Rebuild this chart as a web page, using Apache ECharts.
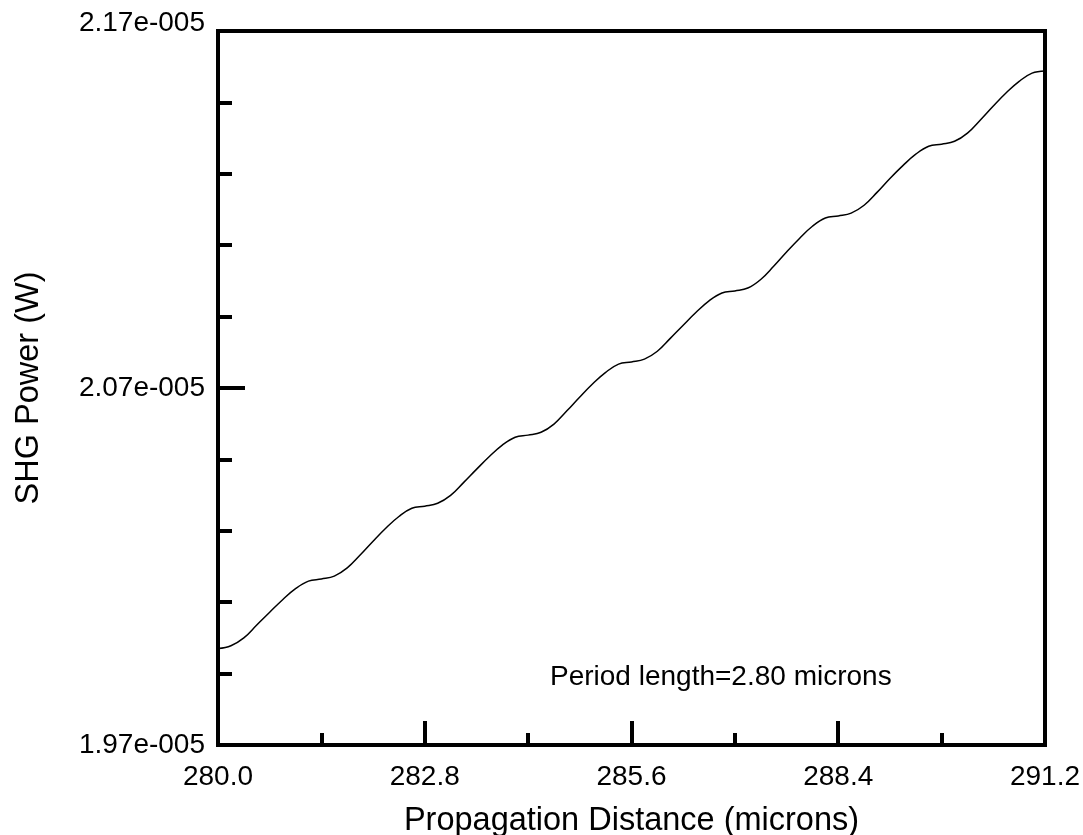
<!DOCTYPE html>
<html>
<head>
<meta charset="utf-8">
<script src="https://cdn.jsdelivr.net/npm/echarts@6/dist/echarts.min.js"></script>
<style>
html,body{margin:0;padding:0;background:#fff;}
#chart{width:1083px;height:835px;}
</style>
</head>
<body>
<div id="chart"></div>
<script>
// Propagation distance (microns)
const distance = [
  280.000, 280.175, 280.350, 280.525, 280.700, 280.875, 281.050, 281.225,
  281.400, 281.575, 281.750, 281.925, 282.100, 282.275, 282.450, 282.625,
  282.800, 282.975, 283.150, 283.325, 283.500, 283.675, 283.850, 284.025,
  284.200, 284.375, 284.550, 284.725, 284.900, 285.075, 285.250, 285.425,
  285.600, 285.775, 285.950, 286.125, 286.300, 286.475, 286.650, 286.825,
  287.000, 287.175, 287.350, 287.525, 287.700, 287.875, 288.050, 288.225,
  288.400, 288.575, 288.750, 288.925, 289.100, 289.275, 289.450, 289.625,
  289.800, 289.975, 290.150, 290.325, 290.500, 290.675, 290.850, 291.025,
  291.200
];
// SHG power, in units of 1e-5 W
const shgPower = [
  1.9970, 1.9978, 2.0000, 2.0036, 2.0072, 2.0107, 2.0138, 2.0159,
  2.0165, 2.0173, 2.0196, 2.0232, 2.0271, 2.0308, 2.0340, 2.0363,
  2.0369, 2.0377, 2.0399, 2.0435, 2.0472, 2.0508, 2.0540, 2.0562,
  2.0568, 2.0576, 2.0599, 2.0636, 2.0675, 2.0712, 2.0744, 2.0767,
  2.0773, 2.0781, 2.0803, 2.0839, 2.0876, 2.0912, 2.0944, 2.0966,
  2.0972, 2.0980, 2.1004, 2.1041, 2.1081, 2.1119, 2.1153, 2.1176,
  2.1182, 2.1190, 2.1212, 2.1248, 2.1287, 2.1323, 2.1355, 2.1377,
  2.1383, 2.1391, 2.1414, 2.1451, 2.1490, 2.1527, 2.1559, 2.1582,
  2.1588
];
const xLabelValues = [280.0, 282.8, 285.6, 288.4, 291.2];
const xMajorTicks = [282.8, 285.6, 288.4];
const xMinorTicks = [281.4, 284.2, 287.0, 289.8];
const yLabelValues = [1.97, 2.07, 2.17];
const yMajorTicks = [2.07];
const yMinorTicks = [1.99, 2.01, 2.03, 2.05, 2.09, 2.11, 2.13, 2.15];
const xTitle = 'Propagation Distance (microns)';
const yTitle = 'SHG Power (W)';
const note = 'Period length=2.80 microns';

const FONT = '"Liberation Sans", Arial, sans-serif';
const chart = echarts.init(document.getElementById('chart'));
const points = distance.map((d, i) => [d, shgPower[i]]);

const baseX = {
  type: 'value', min: 280, max: 291.2, gridIndex: 0, position: 'bottom',
  splitLine: {show: false}
};
const baseY = {
  type: 'value', min: 1.97, max: 2.17, gridIndex: 0, position: 'left',
  splitLine: {show: false}
};

chart.setOption({
  backgroundColor: '#fff',
  animation: false,
  grid: {left: 218, right: 38, top: 31, bottom: 90, show: true,
         containLabel: false, outerBoundsMode: 'none',
         borderColor: '#000', borderWidth: 4, backgroundColor: 'transparent'},
  xAxis: [
    Object.assign({}, baseX, {
      axisLine: {show: true, lineStyle: {color: '#000', width: 4}},
      axisTick: {show: true, inside: true, length: 24, customValues: xMajorTicks,
                 lineStyle: {color: '#000', width: 4}},
      axisLabel: {show: true, customValues: xLabelValues, margin: 18,
                  formatter: v => v.toFixed(1),
                  color: '#000', fontSize: 28, fontFamily: FONT},
      name: xTitle, nameLocation: 'middle', nameGap: 60,
      nameTextStyle: {color: '#000', fontSize: 32.5, fontFamily: FONT}
    }),
    Object.assign({}, baseX, {
      axisLine: {show: false},
      axisTick: {show: true, inside: true, length: 12, customValues: xMinorTicks,
                 lineStyle: {color: '#000', width: 4}},
      axisLabel: {show: false}
    })
  ],
  yAxis: [
    Object.assign({}, baseY, {
      axisLine: {show: true, lineStyle: {color: '#000', width: 4}},
      axisTick: {show: true, inside: true, length: 27, customValues: yMajorTicks,
                 lineStyle: {color: '#000', width: 4}},
      axisLabel: {show: true, customValues: yLabelValues, margin: 13,
                  formatter: v => {
                    const s = v.toFixed(2) + 'e-005';
                    return v > 2.16 ? '{top|' + s + '}' : s;
                  },
                  rich: {top: {fontSize: 28, fontFamily: FONT, color: '#000',
                               padding: [0, 0, 16, 0]}},
                  color: '#000', fontSize: 28, fontFamily: FONT},
      name: yTitle, nameLocation: 'middle', nameGap: 172,
      nameTextStyle: {color: '#000', fontSize: 32.5, fontFamily: FONT}
    }),
    Object.assign({}, baseY, {
      axisLine: {show: false},
      axisTick: {show: true, inside: true, length: 14, customValues: yMinorTicks,
                 lineStyle: {color: '#000', width: 4}},
      axisLabel: {show: false}
    })
  ],
  graphic: [{
    type: 'text', left: 550, top: 663,
    style: {text: note, fill: '#000', font: '28px ' + FONT}
  }],
  series: [{
    type: 'line', xAxisIndex: 0, yAxisIndex: 0, data: points,
    showSymbol: false, symbol: 'none', smooth: 0.4,
    lineStyle: {color: '#000', width: 1.5}
  }]
});
</script>
</body>
</html>
